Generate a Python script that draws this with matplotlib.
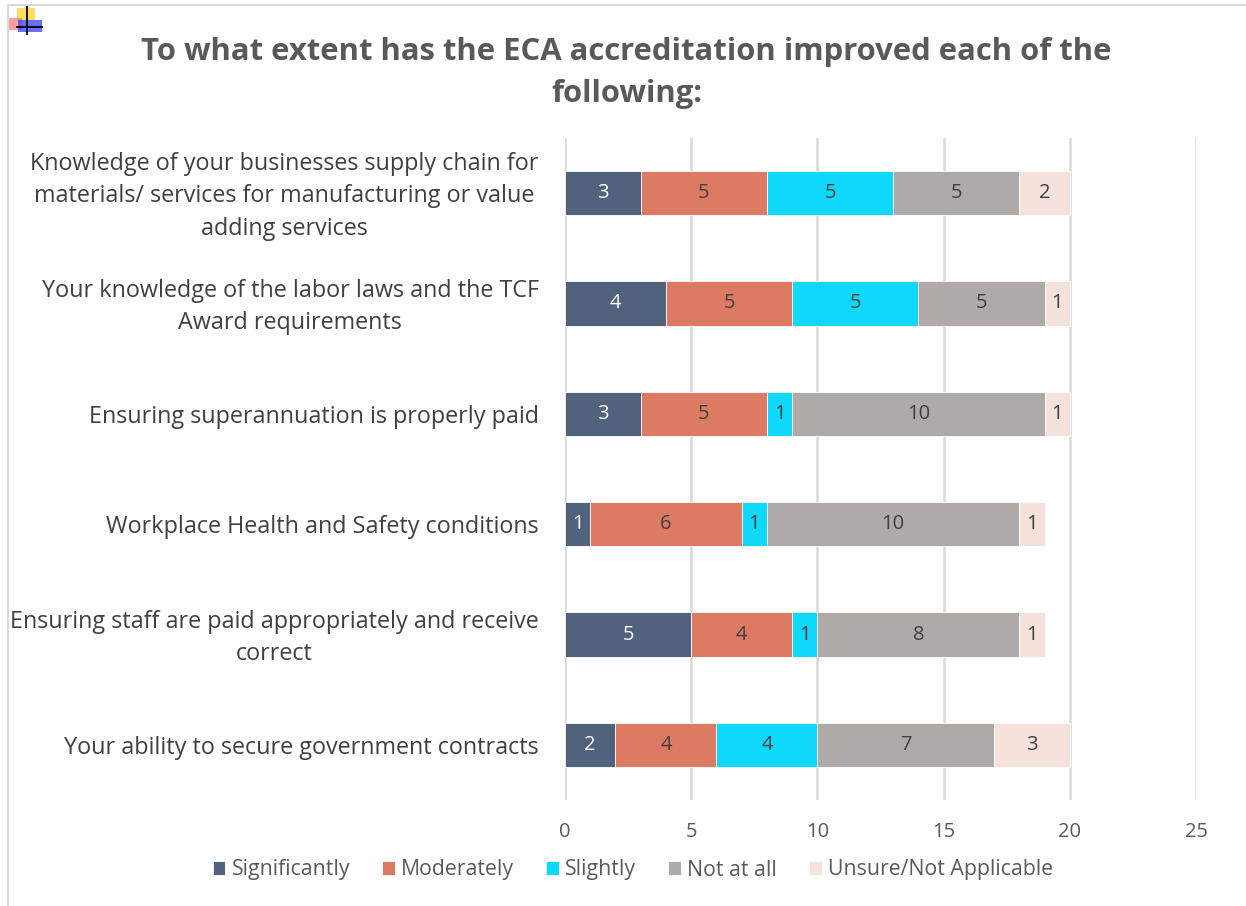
import matplotlib
matplotlib.use("Agg")
import matplotlib.pyplot as plt
import matplotlib.transforms as mtransforms
from matplotlib.patches import Rectangle
from matplotlib.lines import Line2D
import numpy as np

categories = [
    "Knowledge of your businesses supply chain for\nmaterials/ services for manufacturing or value\nadding services",
    "Your knowledge of the labor laws and the TCF\nAward requirements",
    "Ensuring superannuation is properly paid",
    "Workplace Health and Safety conditions",
    "Ensuring staff are paid appropriately and receive\ncorrect",
    "Your ability to secure government contracts",
]
series_names = ["Significantly", "Moderately", "Slightly", "Not at all", "Unsure/Not Applicable"]
significantly = [3, 4, 3, 1, 5, 2]
moderately = [5, 5, 5, 6, 4, 4]
slightly = [5, 5, 1, 1, 1, 4]
not_at_all = [5, 5, 10, 10, 8, 7]
unsure = [2, 1, 1, 1, 1, 3]
xticks = [0, 5, 10, 15, 20, 25]
title = "To what extent has the ECA accreditation improved each of the\nfollowing:"

colors = ["#50627c", "#dd7a63", "#0fd9fb", "#afaaa8", "#f6e2dc"]
label_colors = ["white", "#404040", "#404040", "#404040", "#404040"]

plt.rcParams['font.family'] = ['Open Sans', 'DejaVu Sans']

W, H = 1246, 906
fig = plt.figure(figsize=(W / 100, H / 100), dpi=100)
fig.patch.set_facecolor("white")

# outer border (top & left)
fig.add_artist(Line2D([8 / W, 8 / W], [0, 1 - 5 / H], color="#d9d9d9", lw=1.5))
fig.add_artist(Line2D([8 / W, 1], [1 - 5 / H, 1 - 5 / H], color="#d9d9d9", lw=1.5))

# small decorative icon top-left
def px_rect(x0, y0, x1, y1, color, alpha=1.0):
    fig.add_artist(Rectangle((x0 / W, 1 - y1 / H), (x1 - x0) / W, (y1 - y0) / H,
                             transform=fig.transFigure, color=color, alpha=alpha, lw=0))
px_rect(17, 8, 35, 20, "#ffd740", 0.85)
px_rect(7, 18, 22, 30, "#ff5050", 0.55)
px_rect(18, 20, 42, 32, "#3040ff", 0.75)
fig.add_artist(Line2D([27 / W, 27 / W], [1 - 7 / H, 1 - 34 / H], color="black", lw=1.3))
fig.add_artist(Line2D([17 / W, 42 / W], [1 - 27 / H, 1 - 27 / H], color="black", lw=1.3))

ax = fig.add_axes([565 / W, 1 - 800 / H, (1196 - 565) / W, (800 - 138) / H])

data = [significantly, moderately, slightly, not_at_all, unsure]
y = np.arange(len(categories))
left = np.zeros(len(categories))
for vals, name, c, lc in zip(data, series_names, colors, label_colors):
    vals = np.array(vals, dtype=float)
    bars = ax.barh(y, vals, left=left, height=0.4, color=c, label=name,
                   edgecolor="white", linewidth=0.6, zorder=3)
    ax.bar_label(bars, labels=[f"{int(v)}" for v in vals], label_type="center",
                 color=lc, fontsize=14.5)
    left += vals

ax.set_ylim(len(categories) - 0.5, -0.5)
ax.set_xlim(0, 25)
ax.set_xticks(xticks)
ax.set_xticklabels([str(t) for t in xticks])
ax.set_yticks(y)
ax.set_yticklabels(categories, multialignment="center", fontsize=16.8, color="#404040",
                   linespacing=1.46)
ax.tick_params(axis="y", length=0, pad=19)
ax.tick_params(axis="x", length=0, pad=16, labelsize=14.5, labelcolor="#595959")
ax.grid(axis="x", color="#d9d9d9", lw=1.8, zorder=0)
for s in ax.spines.values():
    s.set_visible(False)

# nudge multi-line labels up slightly (descender compensation)
for lab in ax.get_yticklabels():
    if "\n" in lab.get_text():
        lab.set_transform(lab.get_transform() +
                          mtransforms.ScaledTranslation(0, 4 / 100, fig.dpi_scale_trans))

fig.text(0.503, 1 - 73 / H, title, ha="center", va="center", fontsize=22.3,
         fontweight="bold", color="#595959", linespacing=1.52)

leg = fig.legend(loc="center", bbox_to_anchor=(0.508, 1 - 870 / H), ncol=5, frameon=False,
                 fontsize=15.3, handlelength=0.6, handleheight=0.6, handletextpad=0.3,
                 columnspacing=1.5)
for t in leg.get_texts():
    t.set_color("#595959")

fig.savefig("out.png", dpi=100)
